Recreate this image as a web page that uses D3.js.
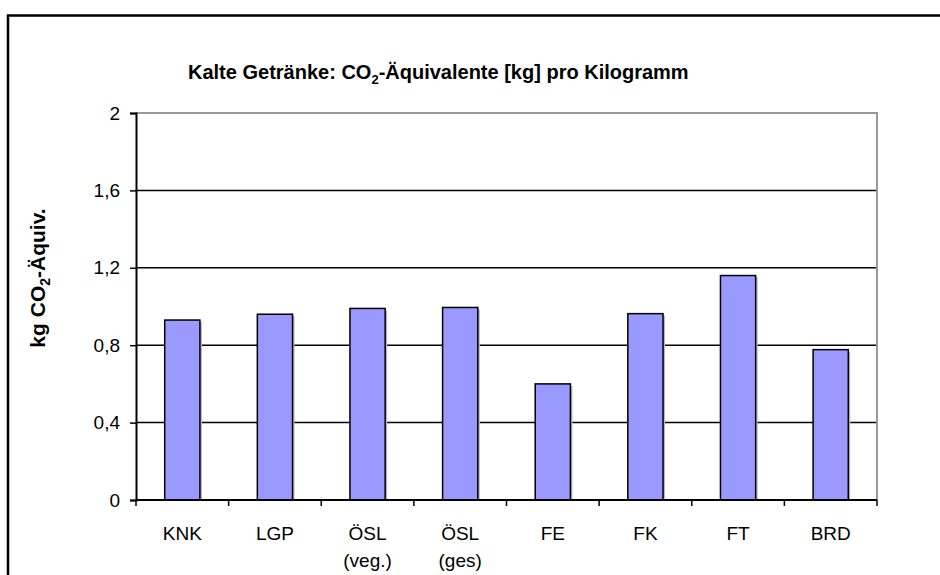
<!DOCTYPE html>
<html>
<head>
<meta charset="utf-8">
<script src="https://cdn.jsdelivr.net/npm/d3@7"></script>
<style>
  body { margin: 0; background: #fff; }
  text { font-family: "Liberation Sans", Arial, sans-serif; fill: #000; }
</style>
</head>
<body>
<div id="wrapper"></div>
<script>
// data
const categories = ["KNK", "LGP", "ÖSL|(veg.)", "ÖSL|(ges)", "FE", "FK", "FT", "BRD"]
const values = [0.93, 0.96, 0.99, 0.995, 0.60, 0.963, 1.16, 0.777]
const yTicks = [0, 0.4, 0.8, 1.2, 1.6, 2]

const dimensions = {
  width: 940,
  height: 575,
  margin: { top: 113, right: 63, bottom: 75, left: 136 },
}
dimensions.boundWidth = dimensions.width - dimensions.margin.left - dimensions.margin.right
dimensions.boundHeight = dimensions.height - dimensions.margin.top - dimensions.margin.bottom

const svg = d3.select("#wrapper")
  .append("svg")
    .attr("width", dimensions.width)
    .attr("height", dimensions.height)

// outer frame (runs off the right and bottom edges)
svg.append("rect")
  .attr("x", 8).attr("y", 15.5)
  .attr("width", 1000).attr("height", 1000)
  .attr("fill", "none")
  .attr("stroke", "#000")
  .attr("stroke-width", 2.5)

const bounds = svg.append("g")
  .attr("transform", `translate(${dimensions.margin.left},${dimensions.margin.top})`)

// scales
const xScale = d3.scaleBand()
  .domain(categories)
  .range([0, dimensions.boundWidth])
  .paddingInner(0.62)
  .paddingOuter(0.31)

const yScale = d3.scaleLinear()
  .domain([0, 2])
  .range([dimensions.boundHeight, 0])

// gridlines
bounds.append("g")
  .selectAll("line")
  .data(yTicks.filter(d => d > 0 && d < 2))
  .enter().append("line")
    .attr("x1", 0).attr("x2", dimensions.boundWidth)
    .attr("y1", d => yScale(d)).attr("y2", d => yScale(d))
    .attr("stroke", "#000")
    .attr("stroke-width", 1.5)

// plot frame top / right (gray)
bounds.append("path")
  .attr("d", `M0,0H${dimensions.boundWidth}V${dimensions.boundHeight}`)
  .attr("fill", "none")
  .attr("stroke", "#999")
  .attr("stroke-width", 2)

// bars (with a soft shadow)
const bars = bounds.append("g")
bars.selectAll(".shadow")
  .data(values)
  .enter().append("rect")
    .attr("class", "shadow")
    .attr("x", (d, i) => xScale(categories[i]) + 2)
    .attr("y", d => yScale(d) + 2)
    .attr("width", xScale.bandwidth())
    .attr("height", d => yScale(0) - yScale(d) - 2)
    .attr("fill", "#b8b8b8")
bars.selectAll(".bar")
  .data(values)
  .enter().append("rect")
    .attr("class", "bar")
    .attr("x", (d, i) => xScale(categories[i]))
    .attr("y", d => yScale(d))
    .attr("width", xScale.bandwidth())
    .attr("height", d => yScale(0) - yScale(d))
    .attr("fill", "#9999ff")
    .attr("stroke", "#000")
    .attr("stroke-width", 1.5)

// y axis
const yAxis = bounds.append("g")
  .attr("id", "y-axis")
  .call(d3.axisLeft(yScale)
    .tickValues(yTicks)
    .tickSize(6)
    .tickPadding(10)
    .tickFormat(d => d3.format("")(d).replace(".", ",")))
yAxis.select(".domain").attr("stroke-width", 2)
yAxis.selectAll(".tick line").attr("stroke-width", 1.5)
yAxis.selectAll(".tick text")
  .attr("font-size", 19)
  .attr("font-family", "Liberation Sans, Arial, sans-serif")

// x axis
const xAxis = bounds.append("g")
  .attr("id", "x-axis")
  .attr("transform", `translate(0,${dimensions.boundHeight})`)
xAxis.append("line")
  .attr("x1", 0).attr("x2", dimensions.boundWidth)
  .attr("stroke", "#000").attr("stroke-width", 2)
const step = dimensions.boundWidth / categories.length
xAxis.selectAll(".xtick")
  .data(d3.range(categories.length + 1))
  .enter().append("line")
    .attr("x1", d => d * step).attr("x2", d => d * step)
    .attr("y1", 0).attr("y2", 6)
    .attr("stroke", "#000").attr("stroke-width", 1.5)
const xLabels = xAxis.selectAll(".xlabel")
  .data(categories)
  .enter().append("text")
    .attr("text-anchor", "middle")
    .attr("font-size", 19)
    .attr("transform", d => `translate(${xScale(d) + xScale.bandwidth() / 2},0)`)
xLabels.selectAll("tspan")
  .data(d => d.split("|"))
  .enter().append("tspan")
    .attr("x", 0)
    .attr("y", (d, i) => 40 + i * 27)
    .text(d => d)

// title
const title = svg.append("text")
  .attr("x", 188).attr("y", 79)
  .attr("font-size", 20)
  .attr("font-weight", "bold")
title.append("tspan").text("Kalte Getränke: CO")
title.append("tspan").attr("font-size", 13).attr("dy", 5).text("2")
title.append("tspan").attr("dy", -5).text("-Äquivalente [kg] pro Kilogramm")

// y label
const yLabel = svg.append("text")
  .attr("transform", "translate(45,278) rotate(-90)")
  .attr("text-anchor", "middle")
  .attr("font-size", 21)
  .attr("font-weight", "bold")
yLabel.append("tspan").text("kg CO")
yLabel.append("tspan").attr("font-size", 14).attr("dy", 5).text("2")
yLabel.append("tspan").attr("dy", -5).text("-Äquiv.")
</script>
</body>
</html>
